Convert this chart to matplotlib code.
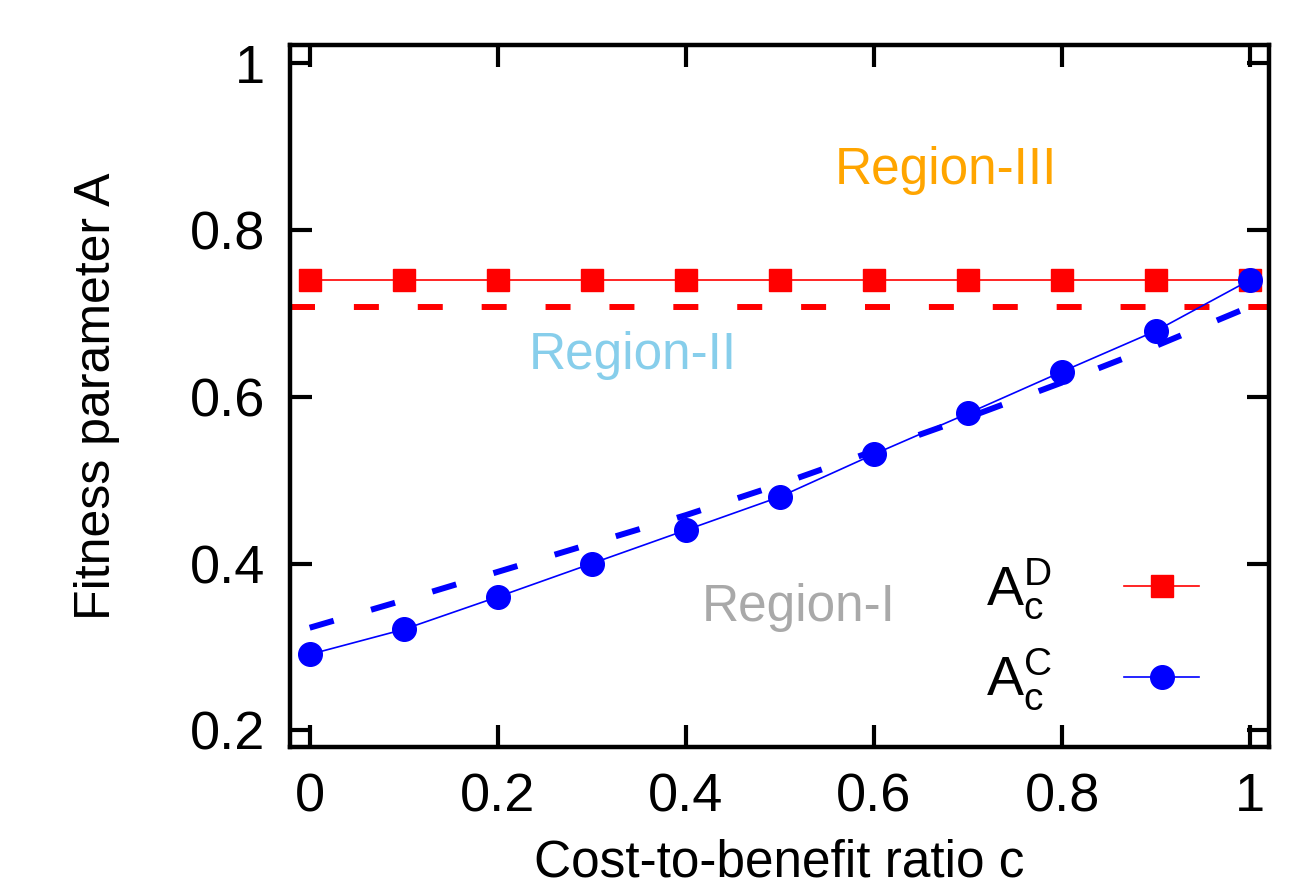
import matplotlib
matplotlib.use("Agg")
import matplotlib.pyplot as plt

plt.rcParams['font.family'] = ['Liberation Sans', 'DejaVu Sans']

# cost-to-benefit ratio
c_values = [0.0, 0.1, 0.2, 0.3, 0.4, 0.5, 0.6, 0.7, 0.8, 0.9, 1.0]
# simulation points
acd_sim = [0.74, 0.74, 0.74, 0.74, 0.74, 0.74, 0.74, 0.74, 0.74, 0.74, 0.74]
acc_sim = [0.291, 0.321, 0.360, 0.400, 0.440, 0.480, 0.531, 0.580, 0.630, 0.679, 0.740]
# theory (dashed)
acd_theory = 0.708
acc_theory = [0.323, 0.356, 0.390, 0.424, 0.458, 0.495, 0.535, 0.575, 0.617, 0.661, 0.708]

x_ticks = [0, 0.2, 0.4, 0.6, 0.8, 1]
x_ticklabels = ["0", "0.2", "0.4", "0.6", "0.8", "1"]
y_ticks = [0.2, 0.4, 0.6, 0.8, 1.0]
y_ticklabels = ["0.2", "0.4", "0.6", "0.8", "1"]

fig = plt.figure(figsize=(13.15, 8.91), dpi=100)
ax = fig.add_axes([0.2205, 0.1616, 0.7445, 0.7879])

lw_dash = 4.3
dash = (0, (18 / lw_dash, 28 / lw_dash))

ax.axhline(acd_theory, color="red", lw=lw_dash, ls=dash)
ax.plot(c_values, acc_theory, color="blue", lw=lw_dash, ls=dash)

ax.plot(c_values, acd_sim, color="red", lw=1.2, marker="s", ms=16.5,
        label=r"$\mathregular{A_c^D}$")
ax.plot(c_values, acc_sim, color="blue", lw=1.2, marker="o", ms=17,
        label=r"$\mathregular{A_c^C}$")

ax.text(0.676, 0.871, "Region-III", color="orange", fontsize=37, ha="center", va="center")
ax.text(0.344, 0.649, "Region-II", color="skyblue", fontsize=37, ha="center", va="center")
ax.text(0.52, 0.347, "Region-I", color="darkgray", fontsize=37, ha="center", va="center")

ax.set_xlim(-0.021, 1.02)
ax.set_ylim(0.18, 1.0216)
ax.set_xticks(x_ticks)
ax.set_xticklabels(x_ticklabels)
ax.set_yticks(y_ticks)
ax.set_yticklabels(y_ticklabels)
ax.tick_params(direction="in", length=16, width=3, labelsize=39, pad=18,
               top=True, right=True)

for s in ax.spines.values():
    s.set_linewidth(3.2)

ax.set_xlabel("Cost-to-benefit ratio c", fontsize=37, labelpad=12)
ax.set_ylabel("Fitness parameter A", fontsize=36, labelpad=50)

ax.legend(loc="lower right", bbox_to_anchor=(0.98, -0.022), frameon=False,
          markerfirst=False, fontsize=40, handlelength=1.35, handletextpad=1.3,
          labelspacing=0.45)

fig.savefig("out.png", dpi=100)
